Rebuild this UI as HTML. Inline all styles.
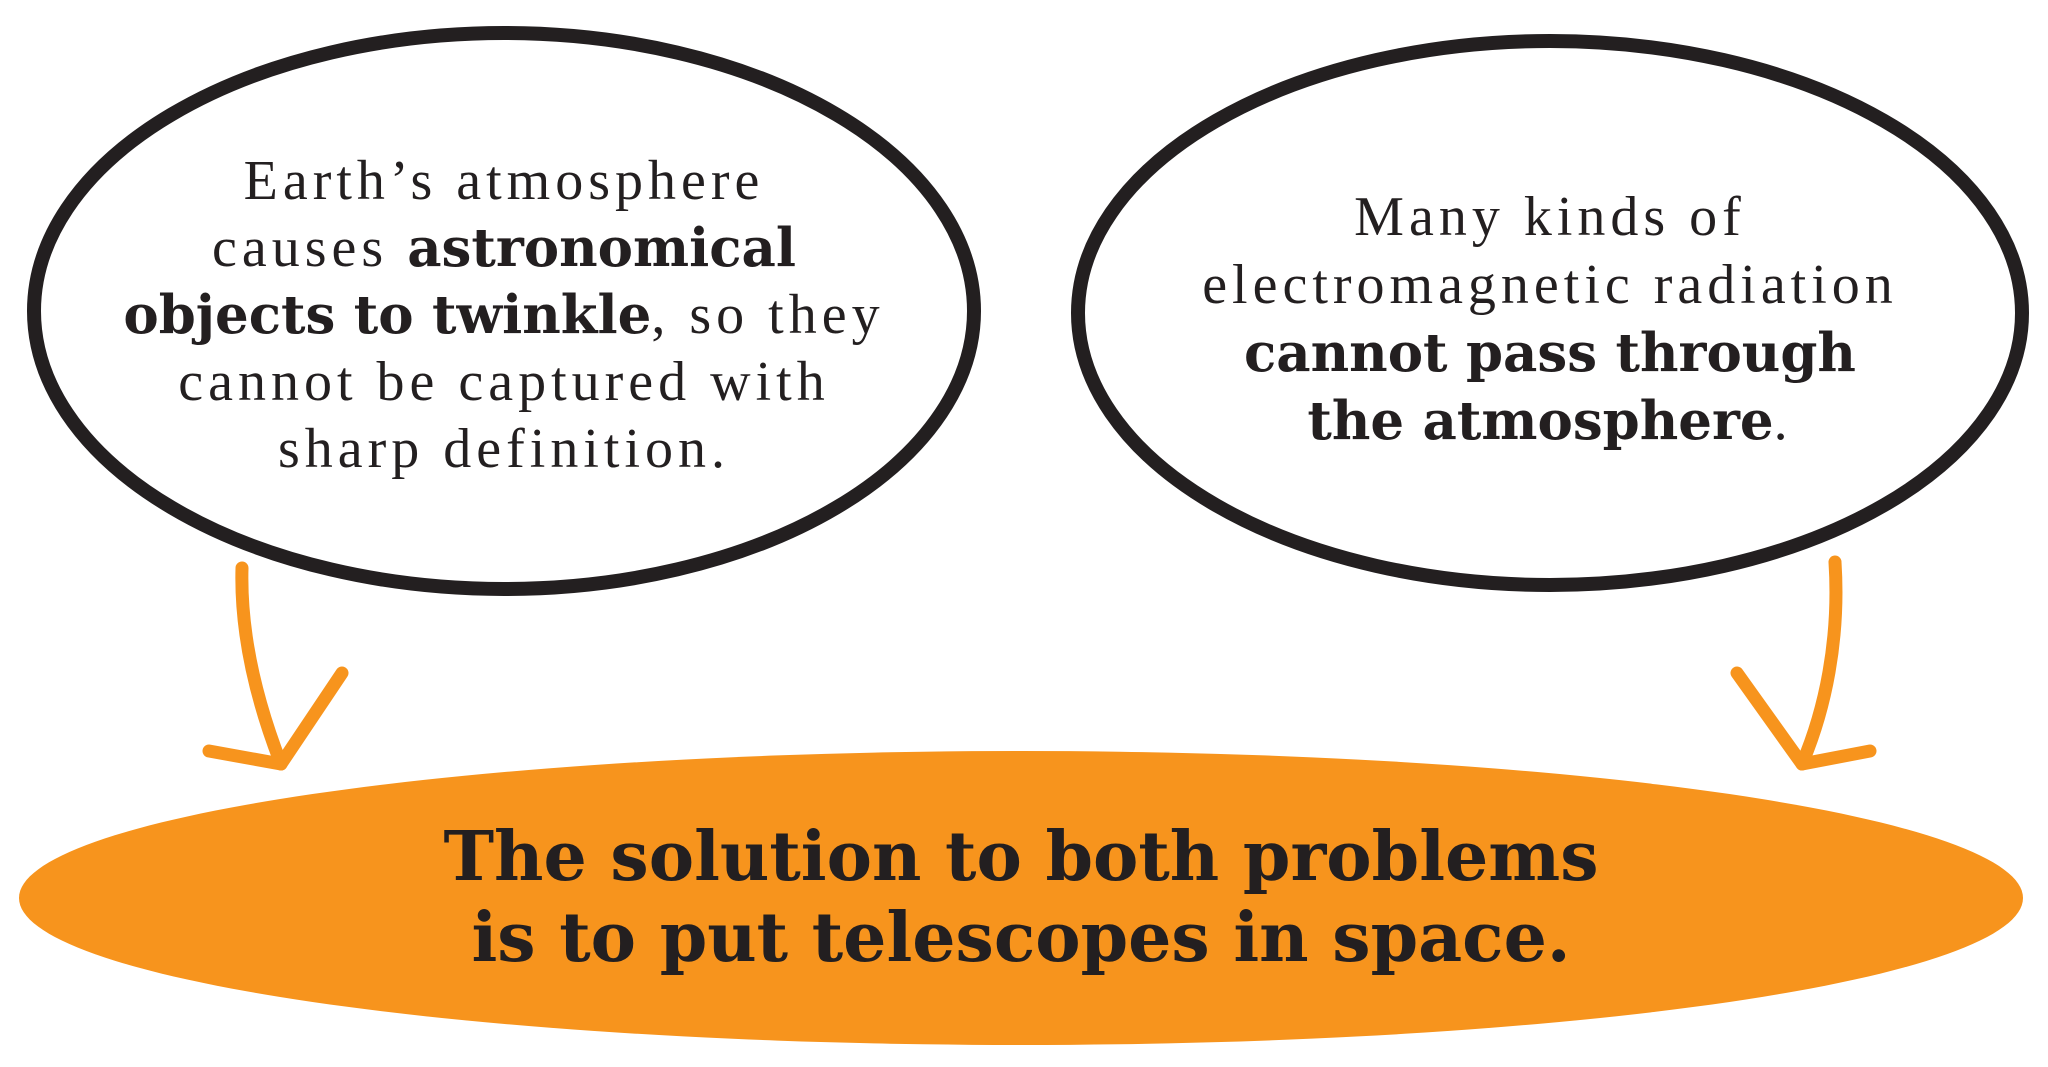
<!DOCTYPE html>
<html><head><meta charset="utf-8"><style>
body{margin:0;background:#fff;width:2048px;height:1067px;overflow:hidden;}
svg{position:absolute;left:0;top:0}
.t{position:absolute;text-align:center;font-family:"Liberation Serif","DejaVu Serif",serif;color:#231f20;letter-spacing:5px;font-size:56px;}
b{font-family:"DejaVu Serif","Liberation Serif",serif;font-weight:bold;letter-spacing:0;font-size:53px;}
</style></head><body>
<svg width="2048" height="1067">
<ellipse cx="504" cy="311" rx="470" ry="278" fill="#fff" stroke="#231f20" stroke-width="14"/>
<ellipse cx="1550" cy="313" rx="472" ry="272" fill="#fff" stroke="#231f20" stroke-width="14"/>
<ellipse cx="1021" cy="898" rx="1002" ry="147" fill="#f7941d"/>
<g fill="none" stroke="#f7941d" stroke-width="13" stroke-linecap="round" stroke-linejoin="round">
<path d="M242 568 C240 640 260 710 281 764"/>
<path d="M209 751 L281 764 L342 673"/>
</g>
<g fill="none" stroke="#f7941d" stroke-width="13" stroke-linecap="round" stroke-linejoin="round">
<path d="M1835 562 C1840 640 1825 710 1802 764"/>
<path d="M1737 673 L1802 764 L1870 751"/>
</g>
</svg>
<div class="t" style="left:44px;top:148px;width:920px;line-height:67px;">Earth’s atmosphere<br>causes <b>astronomical<br>objects to twinkle</b>, so they<br>cannot be captured with<br>sharp definition.</div>
<div class="t" style="left:1090px;top:183px;width:920px;line-height:68px;">Many kinds of<br>electromagnetic radiation<br><b>cannot pass through<br>the atmosphere</b>.</div>
<div class="t" style="left:171px;top:819px;width:1700px;line-height:76px;"><b style="font-size:68px">The solution to both problems<br>is to put telescopes in space.</b></div>
</body></html>
